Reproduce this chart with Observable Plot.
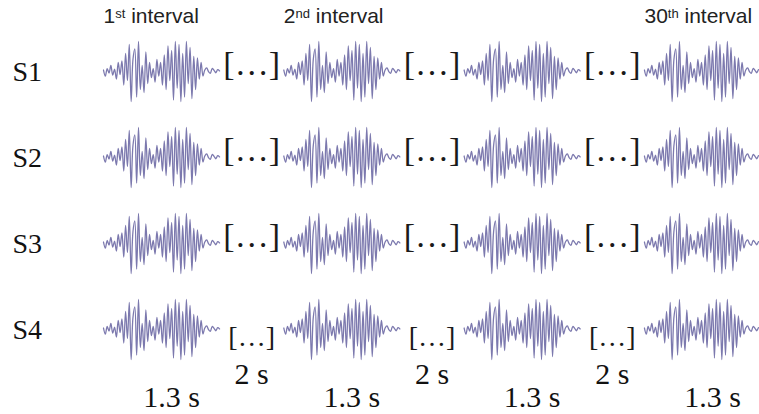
<!DOCTYPE html>
<html><head><meta charset="utf-8">
<script src="https://cdn.jsdelivr.net/npm/d3@7"></script>
<script src="https://cdn.jsdelivr.net/npm/@observablehq/plot@0.6"></script>
<style>html,body{margin:0;padding:0;background:#fff;} svg{display:block;background:#fff}</style>
</head><body><div id="chart"></div>
<script>
// ---- data ----
const rows = ["S1", "S2", "S3", "S4"];
const intervals = [0, 1, 2, 3];                 // drawn intervals (the 4th stands for the 30th)
const intervalLabels = ["1st interval", "2nd interval", "", "30th interval"];
const waveDuration = 1.3;                        // s
const waveLabel = "1.3 s";
const gapLabel = "2 s";
const gapMarker = "[…]";
// stimulus waveform (relative amplitude)
const waveform = [
  0.05, -0.15, 0.1, -0.05, 0.2, -0.12, 0.08, -0.25, 0.3, -0.1, 0.35, -0.45,
  0.6, -0.3, 0.9, -1.0, 0.4, 0.75, -0.85, 1.0, -0.6, 0.2, -0.7, 0.65, -0.4,
  0.3, -0.2, 0.1, -0.35, 0.4, -0.15, 0.3, -0.45, 0.55,
  -0.6, 0.85, -0.3, 0.7, -0.95, 1.0, -0.55, 0.9, -1.0, 0.6, -0.85, 1.0, -0.4, 0.8, -0.9, 0.5, -0.6,
  0.45, -0.25, 0.3, -0.15,
  0.05, 0.12, 0.0, -0.06, 0.1, 0.04, -0.04, 0.06, 0.02
];

// ---- layout helpers (schematic time axis: the 2 s gap is drawn compressed) ----
const gapShown = 0.72;
const period = waveDuration + gapShown;
const amp = 0.35;

const wavePoints = [];
rows.forEach((row, r) => intervals.forEach(k => waveform.forEach((a, i) => {
  wavePoints.push({row, r, k, t: k * period + (i / (waveform.length - 1)) * waveDuration, v: r - a * amp});
})));
const gaps = [];
rows.forEach((row, r) => intervals.slice(0, -1).forEach(k => gaps.push({row, r, k})));
const rowData = rows.map((row, r) => ({row, r}));
const headData = intervals.map(k => ({k, label: intervalLabels[k]})).filter(d => d.label);

const serif = "'Liberation Serif', 'Times New Roman', serif";
const sans = "'Liberation Sans', Arial, sans-serif";

const chart = Plot.plot({
  width: 759, height: 414, margin: 0,
  x: {domain: [0, 3 * period + waveDuration], range: [103, 760], axis: null},
  y: {domain: [-0.826, 3.988], reverse: true, axis: null},
  style: {background: "#fff"},
  marks: [
    Plot.line(wavePoints, {x: "t", y: "v", z: d => d.row + d.k, stroke: "#7c79ae", strokeWidth: 1.3, curve: "catmull-rom"}),
    Plot.text(gaps.filter(d => d.row !== "S4"), {x: d => d.k * period + waveDuration + gapShown / 2, y: "r", text: () => gapMarker,
      fontSize: 34, fontFamily: serif, fill: "#1a1a1a", lineAnchor: "middle", dy: -7}),
    Plot.text(gaps.filter(d => d.row === "S4"), {x: d => d.k * period + waveDuration + gapShown / 2, y: "r", text: () => gapMarker,
      fontSize: 28, fontFamily: serif, fill: "#1a1a1a", lineAnchor: "middle", dy: 7}),
    Plot.text(rowData, {frameAnchor: "left", y: "r", text: "row", dx: 12, textAnchor: "start", lineAnchor: "middle",
      fontSize: 28, fontFamily: serif, fill: "#111"}),
    Plot.text(headData, {x: d => d.k * period, frameAnchor: "top", text: "label", dy: 16, textAnchor: "start", lineAnchor: "middle",
      fontSize: 21, fontFamily: sans, fill: "#222"}),
    Plot.text(intervals, {x: k => k * period + waveDuration / 2, frameAnchor: "bottom", text: () => waveLabel, dx: 10, dy: -8,
      lineAnchor: "bottom", fontSize: 30, fontFamily: serif, fill: "#111"}),
    Plot.text(intervals.slice(0, -1), {x: k => k * period + waveDuration + gapShown / 2, frameAnchor: "bottom", text: () => gapLabel, dy: -31,
      lineAnchor: "bottom", fontSize: 30, fontFamily: serif, fill: "#111"})
  ]
});
document.getElementById("chart").appendChild(chart);

// superscript ordinal suffixes in the interval labels
d3.select(chart).selectAll("text").each(function() {
  const s = this.textContent;
  const m = s.match(/^(\d+)(st|nd|rd|th)( interval)$/);
  if (!m) return;
  const t = d3.select(this);
  t.selectAll("*").remove();
  t.text(null);
  t.append("tspan").text(m[1]);
  t.append("tspan").attr("font-size", "0.62em").attr("dy", "-0.42em").text(m[2]);
  t.append("tspan").attr("dy", "0.26em").text(m[3]);
});
</script>
</body></html>
